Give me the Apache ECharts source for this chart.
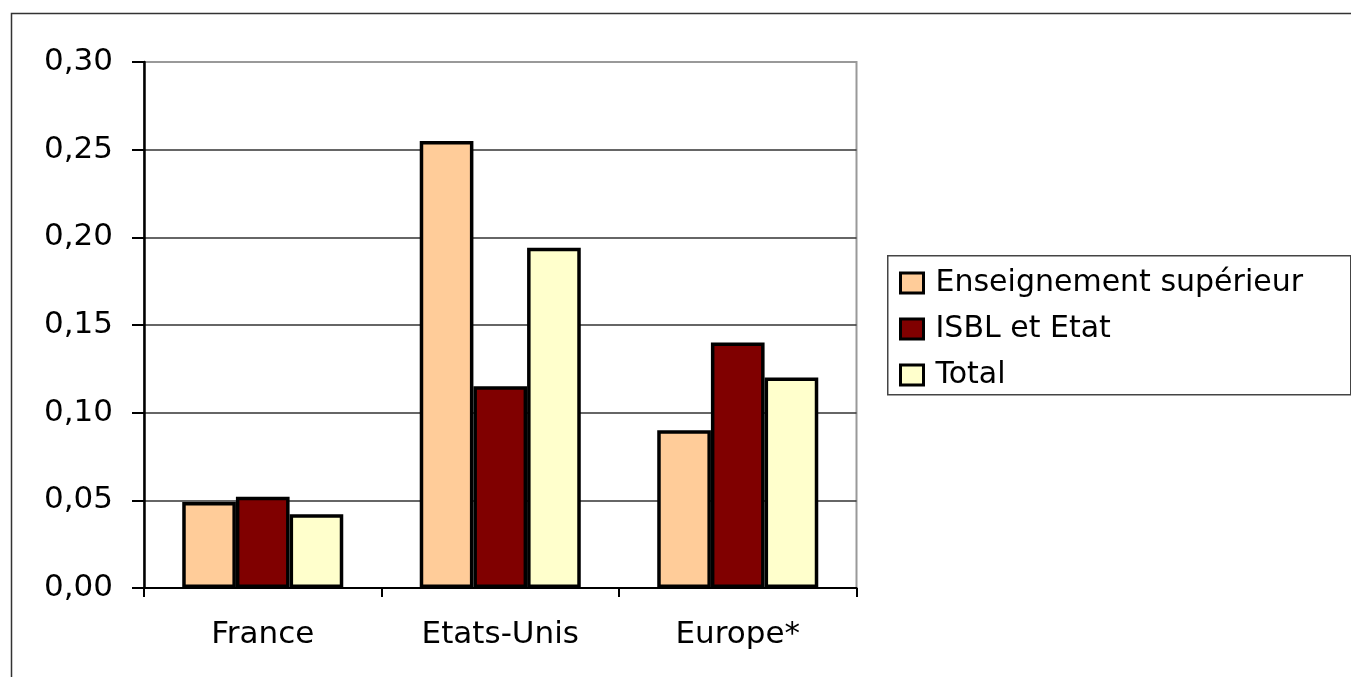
<!DOCTYPE html>
<html>
<head>
<meta charset="utf-8">
<script src="https://cdn.jsdelivr.net/npm/echarts@6/dist/echarts.min.js"></script>
<style>
  html, body { margin: 0; padding: 0; background: #fff; }
  #chart { width: 1351px; height: 677px; }
</style>
</head>
<body>
<div id="chart"></div>
<script>
// Categories and series values
const categories = ['France', 'Etats-Unis', 'Europe*'];
const seriesNames = ['Enseignement supérieur', 'ISBL et Etat', 'Total'];
const enseignementSup = [0.049, 0.255, 0.090];
const isblEtat = [0.052, 0.115, 0.140];
const total = [0.042, 0.194, 0.120];
const seriesColors = ['#FFCC99', '#800000', '#FFFFCC'];

const FONT = 'DejaVu Sans';

const chart = echarts.init(document.getElementById('chart'), null, { renderer: 'canvas' });

function barSeries(name, data, color) {
  return {
    name: name,
    type: 'bar',
    data: data,
    barWidth: '22.6%',
    barGap: '0%',
    itemStyle: { color: color, borderColor: '#000', borderWidth: 3.5 },
    emphasis: { disabled: true }
  };
}

chart.setOption({
  animation: false,
  backgroundColor: '#fff',
  textStyle: { fontFamily: FONT, color: '#000' },
  graphic: [
    // outer frame of the chart area
    { type: 'rect', left: 9, top: 11, shape: { width: 1400, height: 700 },
      style: { fill: 'none', stroke: '#333', lineWidth: 1.5 }, z: 100 },
    // legend box
    { type: 'rect', left: 887, top: 255, shape: { width: 463, height: 139 },
      style: { fill: '#fff', stroke: '#444', lineWidth: 1.5 }, z: 1 }
  ],
  grid: {
    left: 144, right: 494.5, top: 62, bottom: 89,
    show: true, borderColor: '#999', borderWidth: 2, backgroundColor: 'transparent'
  },
  legend: {
    orient: 'vertical',
    left: 899, top: 268,
    padding: 0,
    itemWidth: 23, itemHeight: 20, itemGap: 16,
    icon: 'rect',
    itemStyle: { borderColor: '#000', borderWidth: 3 },
    textStyle: { fontFamily: FONT, fontSize: 30, color: '#000', padding: [0, 0, 0, 7] },
    data: seriesNames,
    selectedMode: false,
    z: 5
  },
  xAxis: {
    type: 'category',
    data: categories,
    axisLine: { lineStyle: { color: '#000', width: 2 } },
    axisTick: { show: true, alignWithLabel: false, length: 9, lineStyle: { color: '#000', width: 2 } },
    axisLabel: { fontFamily: FONT, fontSize: 31, color: '#000', margin: 31 },
    splitLine: { show: false }
  },
  yAxis: {
    type: 'value',
    min: 0, max: 0.30, interval: 0.05,
    axisLine: { show: true, lineStyle: { color: '#000', width: 2.5 } },
    axisTick: { show: true, length: 12, lineStyle: { color: '#000', width: 2 } },
    axisLabel: {
      fontFamily: FONT, fontSize: 31, color: '#000', margin: 31,
      formatter: v => v.toFixed(2).replace('.', ',')
    },
    splitLine: { show: true, showMaxLine: false, lineStyle: { color: '#333', width: 1.5 } }
  },
  series: [
    barSeries(seriesNames[0], enseignementSup, seriesColors[0]),
    barSeries(seriesNames[1], isblEtat, seriesColors[1]),
    barSeries(seriesNames[2], total, seriesColors[2])
  ]
});
</script>
</body>
</html>
